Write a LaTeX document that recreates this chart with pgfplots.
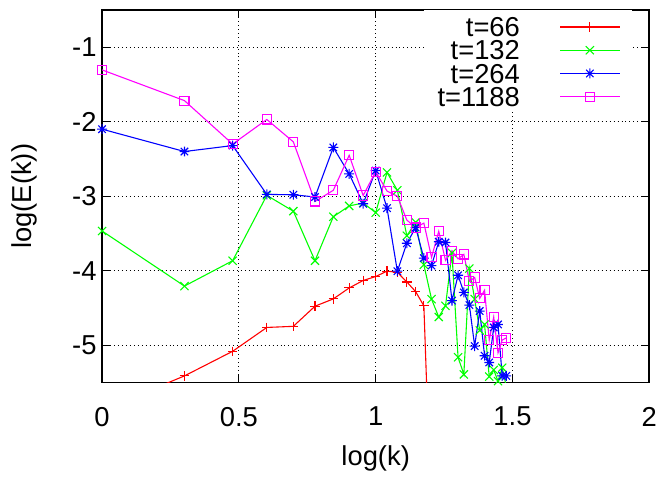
\documentclass[border=0pt]{standalone}
\usepackage{pgfplots}
\pgfplotsset{compat=1.18}
\usepackage{pgfplotstable}
\usepackage{fontspec}
\setmainfont{Liberation Sans}

\definecolor{gpred}{RGB}{255,0,0}
\definecolor{gpgreen}{RGB}{0,255,0}
\definecolor{gpblue}{RGB}{0,0,255}
\definecolor{gpmag}{RGB}{255,0,255}

\pgfdeclareplotmark{gpstar}{%
  \pgfpathmoveto{\pgfqpoint{-\pgfplotmarksize}{0pt}}\pgfpathlineto{\pgfqpoint{\pgfplotmarksize}{0pt}}%
  \pgfpathmoveto{\pgfqpoint{0pt}{-\pgfplotmarksize}}\pgfpathlineto{\pgfqpoint{0pt}{\pgfplotmarksize}}%
  \pgfpathmoveto{\pgfqpoint{-.75\pgfplotmarksize}{-.75\pgfplotmarksize}}\pgfpathlineto{\pgfqpoint{.75\pgfplotmarksize}{.75\pgfplotmarksize}}%
  \pgfpathmoveto{\pgfqpoint{-.75\pgfplotmarksize}{.75\pgfplotmarksize}}\pgfpathlineto{\pgfqpoint{.75\pgfplotmarksize}{-.75\pgfplotmarksize}}%
  \pgfusepathqstroke}

\pgfplotstableread{
x red green blue mag
0 -5.87 -3.466 -2.10 -1.305
0.30103 -5.41 -4.205 -2.40 -1.717
0.47712 -5.08 -3.865 -2.32 -2.30
0.60206 -4.76 -2.988 -2.975 -1.97
0.69897 -4.745 -3.20 -2.98 -2.27
0.77815 -4.475 -3.865 -3.01 -3.07
0.84510 -4.377 -3.275 -2.345 -2.92
0.90309 -4.23 -3.13 -2.70 -2.45
0.95424 -4.13 -3.09 -3.10 -2.99
1 -4.077 -3.22 -2.655 -2.67
1.04139 -4.005 -2.68 -3.16 -2.93
1.07918 -4.02 -2.92 -4.005 -3.00
1.11394 -4.15 -3.53 -3.63 -3.32
1.14613 -4.28 -3.35 -3.42 -3.42
1.17609 -4.47 -3.92 -3.83 -3.36
1.20412 -7.4 -4.38 -3.93 -3.82
1.23045 nan -4.62 -3.61 -3.47
1.25527 nan -4.47 -3.62 -3.86
1.27875 nan -3.76 -4.40 -3.73
1.30103 nan -5.16 -4.06 -3.84
1.32222 nan -5.39 -4.29 -3.78
1.34242 nan -3.97 -4.46 -4.14
1.36173 nan -4.38 -5.01 -4.09
1.38021 nan -4.80 -4.54 -4.37
1.39794 nan -4.72 -5.14 -4.26
1.41497 nan -5.42 -5.23 -4.93
1.43136 nan -5.33 -4.76 -4.62
1.44716 nan -5.48 -4.72 -5.10
1.46240 nan -5.30 -5.41 -4.93
1.47712 nan -5.55 -5.41 -4.90
}\datatable

\begin{document}
\fontsize{13.8bp}{16bp}\selectfont
\begin{tikzpicture}
\begin{axis}[
  scale only axis, width=276bp, height=188bp,
  xmin=0, xmax=2, ymin=-5.5, ymax=-0.5,
  xtick={0,0.5,1,1.5,2}, ytick={-5,-4,-3,-2,-1},
  grid=major,
  grid style={draw=black, line width=0.5bp, dash pattern=on 0.5bp off 1.5bp},
  tick align=inside, major tick length=4bp,
  axis line style={draw=black, line width=0.8bp},
  tick style={draw=black, line width=0.6bp},
  /pgf/number format/assume math mode=true,
  ticklabel style={font=\fontsize{13.8bp}{16bp}\selectfont},
  yticklabel style={xshift=2bp},
  xticklabel style={yshift=-7.5bp},
  xlabel={log(k)}, ylabel={log(E(k))},
  every axis x label/.style={at={(axis description cs:0.5,0)}, anchor=center, yshift=-38bp, font=\fontsize{13.8bp}{16bp}\selectfont},
  every axis y label/.style={at={([xshift=-39bp]axis description cs:0,0.5)}, rotate=90, anchor=center, font=\fontsize{13.8bp}{16bp}\selectfont},
  legend plot pos=right, legend cell align=right,
  legend style={draw=none, fill=white, at={(rel axis cs:1,1)}, anchor=north east,
    inner xsep=6bp, inner ysep=2bp, xshift=-8.5bp, yshift=0.4bp, row sep=0bp,
    nodes={inner sep=1bp, text height=9.7bp, text depth=0bp},
    /tikz/every odd column/.append style={column sep=19bp}},
  legend image code/.code={\draw[mark repeat=2,mark phase=2,#1,line width=0.55bp] plot coordinates {(0bp,0bp) (15bp,0bp) (30bp,0bp)};},
  every axis plot/.append style={line width=0.55bp},
]
\coordinate (bl) at (rel axis cs:0,0);
\coordinate (tr) at (rel axis cs:1,1);
\addlegendimage{empty legend}
\addlegendentry[text height=0pt, text depth=0pt, inner sep=0pt]{}
\addplot[draw=gpred, mark=+, mark size=2.4bp, mark options={solid, draw=gpred}] table[x=x, y=red] {\datatable};
\addlegendentry{t=66}
\addplot[draw=gpgreen, mark=x, mark size=2.9bp, mark options={solid, draw=gpgreen}] table[x=x, y=green] {\datatable};
\addlegendentry{t=132}
\addplot[draw=gpblue, mark=gpstar, mark size=2.5bp, mark options={solid, draw=gpblue}] table[x=x, y=blue] {\datatable};
\addlegendentry{t=264}
\addplot[draw=gpmag, mark=square, mark size=2.3bp, mark options={solid, draw=gpmag, fill=none}] table[x=x, y=mag] {\datatable};
\addlegendentry{t=1188}
\end{axis}
\path ([shift={(-51.5bp,-43bp)}]bl) rectangle ([shift={(5.5bp,5bp)}]tr);
\end{tikzpicture}
\end{document}
